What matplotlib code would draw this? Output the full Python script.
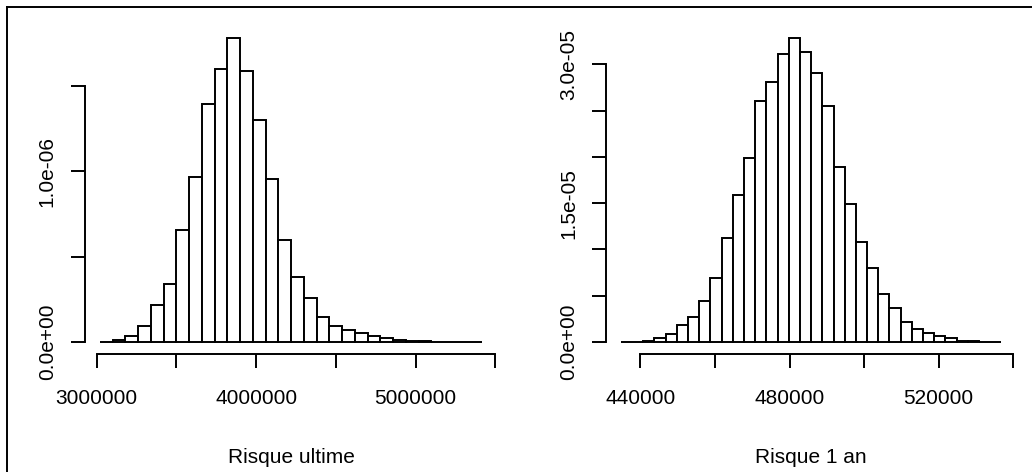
import numpy as np
import matplotlib
matplotlib.use('Agg')
import matplotlib.pyplot as plt
from matplotlib.lines import Line2D

# Risque ultime: 30 classes de 80 000, densites en 1e-7
ultime_start = 3020000
ultime_width = 80000
ultime_density = [0.0, 0.09, 0.37, 0.95, 2.16, 3.39, 6.55, 9.65, 13.90, 15.95,
                  17.80, 15.85, 12.98, 9.51, 5.95, 3.78, 2.59, 1.48, 0.95, 0.72,
                  0.53, 0.35, 0.22, 0.09, 0.06, 0.04, 0.0, 0.0, 0.0, 0.0]
ultime_scale = 1e-7
ultime_xticks = [3000000, 3500000, 4000000, 4500000, 5000000, 5500000]
ultime_xlabels = ['3000000', '', '4000000', '', '5000000', '']
ultime_yticks = [0, 5e-7, 1e-6, 1.5e-6]
ultime_ylabels = ['0.0e+00', '', '1.0e-06', '']

# Risque 1 an: 34 classes de 3 000, densites en 1e-6
an_start = 434800
an_width = 3000
an_density = [0.0, 0.0, 0.16, 0.43, 0.86, 1.80, 2.73, 4.40, 6.88, 11.20,
              15.88, 19.88, 26.07, 28.12, 31.12, 32.84, 31.30, 29.06, 25.50, 18.94,
              14.94, 10.80, 7.96, 5.15, 3.67, 2.16, 1.37, 0.97, 0.62, 0.40,
              0.16, 0.11, 0.0, 0.0]
an_scale = 1e-6
an_xticks = [440000, 460000, 480000, 500000, 520000, 540000]
an_xlabels = ['440000', '', '480000', '', '520000', '']
an_yticks = [0, 5e-6, 1e-5, 1.5e-5, 2e-5, 2.5e-5, 3e-5]
an_ylabels = ['0.0e+00', '', '', '1.5e-05', '', '', '3.0e-05']

plt.rcParams['font.family'] = ['Liberation Sans', 'DejaVu Sans']
FS = 15

W, H = 1032, 472
fig = plt.figure(figsize=(W / 100, H / 100), dpi=100)


def px_axes(left, right, top, bottom):
    return fig.add_axes([left / W, 1 - bottom / H, (right - left) / W, (bottom - top) / H])


def draw_hist(ax, start, width, dens, scale, xticks, xlabels, yticks, ylabels, title):
    dens = np.array(dens) * scale
    edges = start + width * np.arange(len(dens) + 1)
    ax.bar(edges[:-1], dens, width=width, align='edge',
           facecolor='white', edgecolor='black', linewidth=1.4)
    xpad = 0.04 * (edges[-1] - edges[0])
    ax.set_xlim(edges[0] - xpad, edges[-1] + xpad)
    ax.set_ylim(-0.04 * dens.max(), 1.04 * dens.max())

    for s in ['top', 'right']:
        ax.spines[s].set_visible(False)
    ax.spines['left'].set_bounds(yticks[0], yticks[-1])
    ax.spines['bottom'].set_bounds(xticks[0], xticks[-1])
    for s in ['left', 'bottom']:
        ax.spines[s].set_linewidth(1.4)

    ax.set_xticks(xticks)
    ax.set_xticklabels(xlabels, fontsize=FS)
    ax.set_yticks(yticks)
    ax.set_yticklabels(ylabels, fontsize=FS, rotation=90, va='center')
    ax.tick_params(axis='both', length=10, width=1.4, color='black')
    ax.tick_params(axis='x', pad=15)
    ax.tick_params(axis='y', pad=10)
    ax.set_xlabel(title, fontsize=FS, labelpad=29)


ax1 = px_axes(84.6, 497.8, 25.5, 354.2)
draw_hist(ax1, ultime_start, ultime_width, ultime_density, ultime_scale,
          ultime_xticks, ultime_xlabels, ultime_yticks, ultime_ylabels, 'Risque ultime')

ax2 = px_axes(605.7, 1016.6, 25.9, 354.2)
draw_hist(ax2, an_start, an_width, an_density, an_scale,
          an_xticks, an_xlabels, an_yticks, an_ylabels, 'Risque 1 an')

# cadre de la capture (haut et gauche)
fig.add_artist(Line2D([7 / W, 1], [1 - 7 / H, 1 - 7 / H], transform=fig.transFigure,
                      color='black', linewidth=1.4))
fig.add_artist(Line2D([7 / W, 7 / W], [0, 1 - 7 / H], transform=fig.transFigure,
                      color='black', linewidth=1.4))

fig.savefig('out.png', dpi=100)
